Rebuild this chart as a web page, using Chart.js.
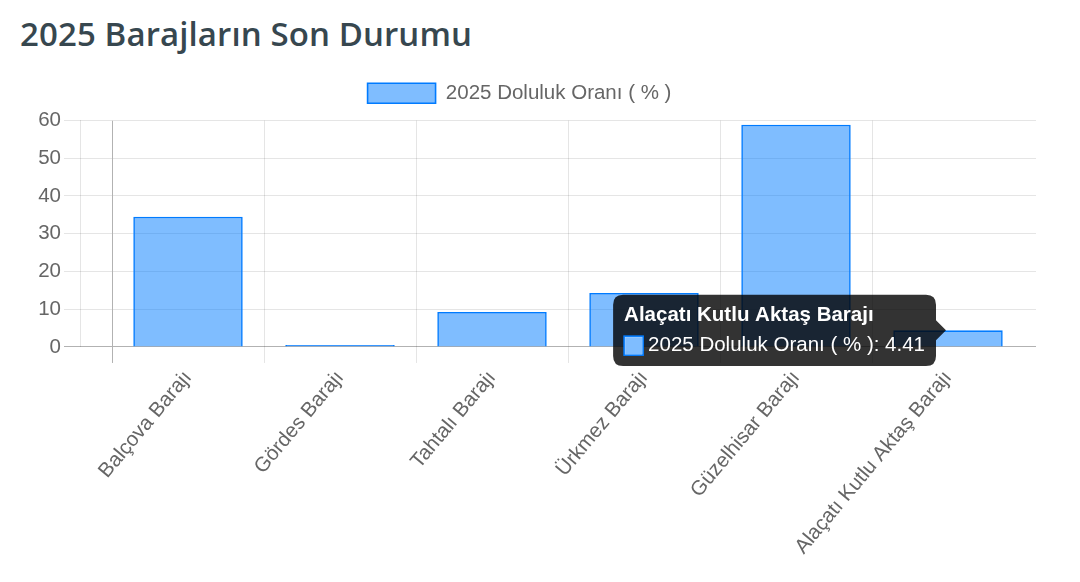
<!DOCTYPE html>
<html lang="tr">
<head>
<meta charset="utf-8">
<title>2025 Barajların Son Durumu</title>
<script src="https://cdn.jsdelivr.net/npm/chart.js@4/dist/chart.umd.min.js"></script>
<style>
  html, body { margin: 0; padding: 0; background: #fff; }
  .wrap { position: relative; width: 1080px; height: 582px; overflow: hidden; }
  h2 {
    position: absolute; left: 20px; top: 11px; margin: 0;
    font-family: "Open Sans", sans-serif; font-weight: 600; font-size: 33px;
    color: #37474f; letter-spacing: 0.1px;
  }
  #barajChart { position: absolute; left: 0; top: 0; }
</style>
</head>
<body>
<div class="wrap">
  <h2>2025 Barajların Son Durumu</h2>
  <canvas id="barajChart" width="1080" height="582"></canvas>
</div>
<script>
// baraj isimleri ve doluluk oranlari
const barajlar = ['Balçova Barajı', 'Gördes Barajı', 'Tahtalı Barajı', 'Ürkmez Barajı', 'Güzelhisar Barajı', 'Alaçatı Kutlu Aktaş Barajı'];
const dolulukOrani = [34.5, 0.5, 9.3, 14.3, 58.9, 4.41];
const seriEtiketi = '2025 Doluluk Oranı ( % )';
const yMin = 0;
const yMax = 60;
const yAdim = 10;

const gridRenk = 'rgba(0,0,0,0.1)';
const sifirRenk = 'rgba(0,0,0,0.3)';
const yazi = { family: '"Liberation Sans", Arial, sans-serif', size: 20.5 };

const yGridColor = (c) => (c.tick && c.tick.value === 0 ? sifirRenk : gridRenk);
const xGridColor = (c) => {
    if (c.type !== 'tick') return 'transparent';
    return c.index === 0 ? sifirRenk : gridRenk;
};

Chart.defaults.font.family = yazi.family;
Chart.defaults.color = '#666';

const ctx = document.getElementById('barajChart').getContext('2d');
const chart = new Chart(ctx, {
    type: 'bar',
    data: {
        labels: barajlar,
        datasets: [
            {
                label: seriEtiketi,
                data: dolulukOrani,
                backgroundColor: 'rgba(0, 123, 255, 0.5)',
                borderColor: 'rgba(0, 123, 255, 1)',
                borderWidth: 1.6,
                categoryPercentage: 0.8,
                barPercentage: 0.9,
            },
        ],
    },
    options: {
        responsive: false,
        animation: false,
        layout: { padding: { left: 3, right: 44, top: 64, bottom: 20 } },
        plugins: {
            legend: {
                labels: { boxWidth: 68, boxHeight: 20, padding: 19, font: yazi, color: '#666' },
            },
            // legend ile grafik arasinda biraz bosluk
            subtitle: {
                display: true,
                text: '',
                weight: 500,
                font: { size: 1, lineHeight: 1 },
                padding: { top: 0, bottom: 6 },
            },
            tooltip: {
                backgroundColor: 'rgba(0,0,0,0.8)',
                titleFont: { family: yazi.family, size: 20.5, weight: 'bold', lineHeight: 1.2 },
                bodyFont: { family: yazi.family, size: 20.5, lineHeight: 1.2 },
                padding: { x: 11, y: 8 },
                caretSize: 10,
                caretPadding: 2,
                cornerRadius: 10,
                titleMarginBottom: 6,
                boxWidth: 19,
                boxHeight: 19,
                boxPadding: 3,
            },
        },
        scales: {
            x: {
                offset: true,
                grid: { offset: true, color: xGridColor, tickLength: 16 },
                border: { display: false },
                ticks: { minRotation: 50, maxRotation: 50, font: yazi, color: '#666' },
            },
            y: {
                position: 'left',
                weight: 10,
                min: yMin,
                max: yMax,
                ticks: { stepSize: yAdim, font: yazi, color: '#666' },
                grid: { color: yGridColor, tickLength: 16 },
                border: { color: gridRenk },
                afterFit: (scale) => { scale.width = 77; },
            },
            yIc: {
                position: 'left',
                weight: 0,
                min: yMin,
                max: yMax,
                ticks: { stepSize: yAdim, display: false },
                grid: { color: yGridColor, tickLength: 32, drawOnChartArea: false },
                border: { display: false },
            },
            ySag: {
                position: 'right',
                min: yMin,
                max: yMax,
                ticks: { stepSize: yAdim, display: false },
                grid: { color: yGridColor, tickLength: 12, drawOnChartArea: false },
                border: { display: false },
            },
        },
    },
});

// son barajin tooltip'i acik gorunsun
const sonIndex = barajlar.length - 1;
const bar = chart.getDatasetMeta(0).data[sonIndex];
chart.tooltip.setActiveElements([{ datasetIndex: 0, index: sonIndex }], { x: bar.x, y: bar.y });
chart.update();
</script>
</body>
</html>
